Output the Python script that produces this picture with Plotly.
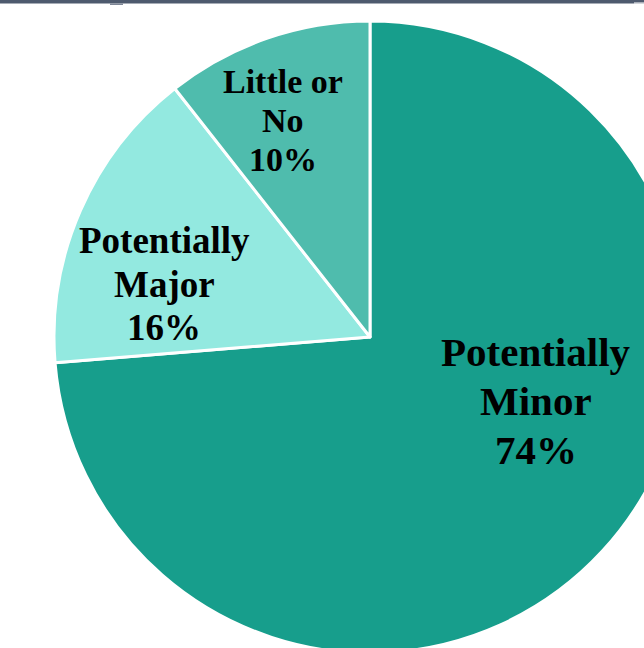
import plotly.graph_objects as go

# data (clockwise from 12 o'clock), slice sizes
categories = ["Potentially Minor", "Potentially Major", "Little or No"]
values = [73.7, 15.7, 10.6]
pct_labels = ["74%", "16%", "10%"]
label_lines = [["Potentially", "Minor"], ["Potentially", "Major"], ["Little or", "No"]]
colors = ["#179e8c", "#93e9e0", "#4fbcad"]

# label styling / placement (pixel centre of middle line, line gap)
font_sizes = [41, 37, 34]
label_px = [(536, 401), (164, 284), (283, 121)]
line_gap = [49, 43, 39]

W, H = 700, 672
L, T, R, B = 54, 21, 14, 19
PW, PH = W - L - R, H - T - B

fig = go.Figure(
    go.Pie(
        labels=categories,
        values=values,
        sort=False,
        direction="clockwise",
        rotation=0,
        marker=dict(colors=colors, line=dict(color="white", width=3)),
        textinfo="none",
        hoverinfo="label+value",
        showlegend=False,
    )
)

annotations = []
for lines, pct, fs, (px, py), gap in zip(label_lines, pct_labels, font_sizes, label_px, line_gap):
    all_lines = lines + [pct]
    n = len(all_lines)
    for k, txt in enumerate(all_lines):
        ly = py + (k - (n - 1) / 2) * gap
        annotations.append(dict(
            text=txt,
            x=(px - L) / PW, y=(H - B - ly) / PH,
            xref="paper", yref="paper",
            xanchor="center", yanchor="middle",
            showarrow=False, align="center",
            font=dict(family="Liberation Serif", size=fs, color="black", weight="bold"),
        ))

fig.update_layout(
    width=W,
    height=H,
    margin=dict(l=L, r=R, t=T, b=B, pad=0),
    paper_bgcolor="white",
    plot_bgcolor="white",
    annotations=annotations,
    shapes=[
        dict(type="rect", xref="paper", yref="paper",
             x0=-L / PW, x1=(W - L) / PW,
             y0=1 + (T - 3.5) / PH, y1=1 + T / PH,
             fillcolor="#4e5a6e", line=dict(width=0), layer="above"),
        dict(type="rect", xref="paper", yref="paper",
             x0=(110 - L) / PW, x1=(123 - L) / PW,
             y0=1 + (T - 5) / PH, y1=1 + (T - 3.5) / PH,
             fillcolor="#7d8696", line=dict(width=0), layer="above"),
    ],
)

fig.write_html(
    "out.html",
    post_script="document.body.style.margin='0';document.body.style.overflow='hidden';",
)
